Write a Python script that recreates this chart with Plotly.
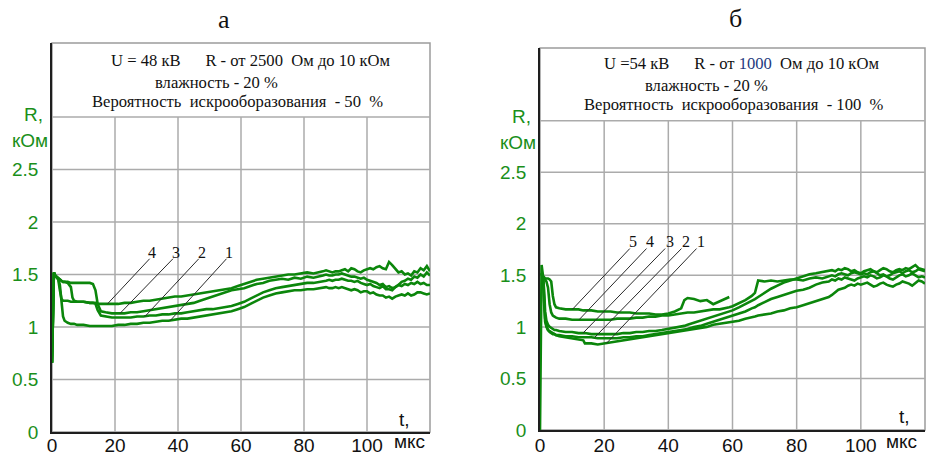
import plotly.graph_objects as go

# ---------------- data ----------------
# panel "а": time, мкс
T_A = [0, 0.3, 0.6, 1, 2, 2.5, 3, 3.5, 4, 5,
       6, 6.5, 7, 8, 10, 12, 13, 13.8, 14.5, 15.5,
       17, 19, 21, 23, 25, 27, 29, 31, 33, 35,
       37, 39, 41, 43, 45, 47, 49, 51, 53, 55,
       57, 59, 61, 63, 65, 67, 69, 71, 73, 75,
       77, 79, 81, 83, 85, 86, 87, 88, 89, 90,
       91, 92, 93, 94, 95, 96, 97, 98, 99, 100,
       101, 102, 103, 104, 105, 106, 107, 108, 109, 110,
       111, 112, 113, 114, 115, 116, 117, 118, 119, 120]

# R, кОм  curves 1..4 of panel "а"
A1 = [0.66, 1.25, 1.52, 1.49, 1.46, 1.40, 1.22, 1.10, 1.06, 1.04,
      1.03, 1.03, 1.03, 1.02, 1.02, 1.01, 1.01, 1.01, 1.01, 1.01,
      1.01, 1.01, 1.02, 1.02, 1.03, 1.03, 1.04, 1.04, 1.05, 1.06,
      1.06, 1.07, 1.08, 1.08, 1.09, 1.10, 1.11, 1.12, 1.13, 1.14,
      1.15, 1.17, 1.19, 1.22, 1.25, 1.28, 1.30, 1.32, 1.33, 1.34,
      1.35, 1.35, 1.36, 1.36, 1.37, 1.37, 1.38, 1.37, 1.37, 1.38,
      1.37, 1.38, 1.37, 1.36, 1.35, 1.36, 1.35, 1.33, 1.34, 1.34,
      1.32, 1.33, 1.31, 1.30, 1.30, 1.28, 1.29, 1.27, 1.29, 1.30,
      1.31, 1.30, 1.32, 1.30, 1.31, 1.33, 1.33, 1.32, 1.31, 1.32]
A2 = [0.66, 1.25, 1.52, 1.49, 1.46, 1.45, 1.44, 1.43, 1.43, 1.42,
      1.38, 1.28, 1.25, 1.24, 1.24, 1.23, 1.23, 1.22, 1.16, 1.11,
      1.10, 1.09, 1.09, 1.09, 1.09, 1.10, 1.10, 1.11, 1.11, 1.12,
      1.12, 1.13, 1.13, 1.14, 1.15, 1.16, 1.17, 1.17, 1.18, 1.19,
      1.20, 1.22, 1.24, 1.27, 1.30, 1.33, 1.35, 1.37, 1.38, 1.39,
      1.40, 1.41, 1.42, 1.42, 1.43, 1.43, 1.44, 1.45, 1.44, 1.45,
      1.45, 1.46, 1.45, 1.44, 1.44, 1.43, 1.44, 1.42, 1.41, 1.40,
      1.41, 1.39, 1.38, 1.37, 1.39, 1.36, 1.36, 1.35, 1.38, 1.40,
      1.39, 1.41, 1.40, 1.42, 1.41, 1.43, 1.41, 1.42, 1.40, 1.40]
A3 = [0.66, 1.25, 1.52, 1.49, 1.46, 1.45, 1.44, 1.43, 1.43, 1.43,
      1.42, 1.42, 1.42, 1.42, 1.42, 1.42, 1.41, 1.35, 1.22, 1.15,
      1.14, 1.13, 1.13, 1.13, 1.14, 1.14, 1.15, 1.16, 1.17, 1.18,
      1.19, 1.20, 1.21, 1.22, 1.23, 1.25, 1.27, 1.29, 1.31, 1.33,
      1.35, 1.36, 1.37, 1.39, 1.41, 1.42, 1.44, 1.45, 1.46, 1.45,
      1.47, 1.46, 1.48, 1.47, 1.48, 1.49, 1.50, 1.49, 1.49, 1.50,
      1.50, 1.51, 1.50, 1.49, 1.48, 1.48, 1.47, 1.46, 1.47, 1.45,
      1.44, 1.43, 1.42, 1.40, 1.41, 1.38, 1.39, 1.37, 1.38, 1.40,
      1.43, 1.44, 1.46, 1.45, 1.48, 1.47, 1.50, 1.48, 1.52, 1.49]
A4 = [0.66, 1.25, 1.52, 1.49, 1.45, 1.35, 1.27, 1.25, 1.25, 1.25,
      1.24, 1.24, 1.24, 1.24, 1.24, 1.23, 1.23, 1.23, 1.22, 1.22,
      1.22, 1.22, 1.22, 1.23, 1.23, 1.24, 1.25, 1.25, 1.26, 1.27,
      1.28, 1.29, 1.29, 1.30, 1.31, 1.32, 1.33, 1.34, 1.35, 1.36,
      1.37, 1.39, 1.41, 1.43, 1.45, 1.46, 1.47, 1.48, 1.49, 1.50,
      1.50, 1.51, 1.52, 1.51, 1.52, 1.53, 1.54, 1.53, 1.52, 1.53,
      1.53, 1.54, 1.55, 1.53, 1.56, 1.55, 1.53, 1.52, 1.54, 1.55,
      1.56, 1.55, 1.57, 1.58, 1.56, 1.55, 1.62, 1.59, 1.56, 1.52,
      1.53, 1.50, 1.51, 1.49, 1.53, 1.52, 1.56, 1.54, 1.58, 1.53]

# panel "б": time, мкс
T_B = [0, 0.3, 0.5, 1, 1.3, 1.6, 2, 2.5, 3, 3.5,
       4, 4.5, 5, 6, 8, 10, 12, 13.5, 14, 16,
       18, 20, 22, 24, 26, 28, 30, 32, 34, 36,
       38, 40, 42, 44, 45, 46, 48, 50, 52, 54,
       56, 58, 59, 60, 62, 64, 66, 67, 68, 70,
       72, 74, 76, 78, 80, 82, 84, 86, 88, 90,
       91, 92, 93, 94, 95, 96, 97, 98, 99, 100,
       101, 102, 103, 104, 105, 106, 107, 108, 109, 110,
       111, 112, 113, 114, 115, 116, 117, 118, 119, 120]

# R, кОм  curves 1..5 of panel "б"
B1 = [None, None, 1.52, 1.44, 1.22, 1.05, 1.00, 0.97, 0.96, 0.95,
      0.94, 0.93, 0.92, 0.91, 0.90, 0.89, 0.88, 0.87, 0.84, 0.84,
      0.83, 0.84, 0.85, 0.86, 0.87, 0.88, 0.89, 0.90, 0.91, 0.92,
      0.93, 0.94, 0.95, 0.96, 0.97, 0.97, 0.98, 0.99, 1.00, 1.02,
      1.03, 1.04, 1.05, 1.05, 1.06, 1.08, 1.09, 1.10, 1.11, 1.12,
      1.13, 1.15, 1.16, 1.18, 1.19, 1.21, 1.23, 1.25, 1.27, 1.29,
      1.31, 1.34, 1.36, 1.37, 1.38, 1.40, 1.41, 1.40, 1.42, 1.41,
      1.42, 1.43, 1.41, 1.39, 1.40, 1.42, 1.43, 1.41, 1.40, 1.39,
      1.41, 1.42, 1.44, 1.43, 1.42, 1.40, 1.43, 1.45, 1.44, 1.42]
B2 = [None, None, 1.52, 1.45, 1.25, 1.08, 1.01, 0.97, 0.95, 0.94,
      0.93, 0.93, 0.92, 0.92, 0.91, 0.91, 0.90, 0.90, 0.90, 0.90,
      0.89, 0.89, 0.89, 0.89, 0.90, 0.90, 0.91, 0.91, 0.92, 0.93,
      0.94, 0.95, 0.96, 0.97, 0.98, 0.98, 1.00, 1.01, 1.03, 1.05,
      1.07, 1.09, 1.10, 1.11, 1.13, 1.15, 1.18, 1.19, 1.21, 1.24,
      1.27, 1.29, 1.31, 1.33, 1.35, 1.36, 1.38, 1.41, 1.43, 1.44,
      1.46, 1.45, 1.47, 1.46, 1.48, 1.47, 1.46, 1.45, 1.47, 1.48,
      1.49, 1.48, 1.50, 1.49, 1.47, 1.48, 1.50, 1.49, 1.47, 1.46,
      1.48, 1.50, 1.51, 1.49, 1.50, 1.52, 1.50, 1.48, 1.49, 1.48]
B3 = [None, None, 1.52, 1.47, 1.35, 1.15, 1.06, 1.02, 1.00, 0.99,
      0.98, 0.97, 0.97, 0.96, 0.95, 0.95, 0.94, 0.94, 0.94, 0.93,
      0.93, 0.93, 0.93, 0.93, 0.94, 0.94, 0.95, 0.95, 0.96, 0.96,
      0.97, 0.98, 0.99, 1.00, 1.01, 1.02, 1.04, 1.06, 1.08, 1.10,
      1.12, 1.14, 1.15, 1.16, 1.19, 1.22, 1.25, 1.27, 1.29, 1.33,
      1.37, 1.40, 1.43, 1.45, 1.47, 1.49, 1.51, 1.52, 1.53, 1.54,
      1.55, 1.54, 1.56, 1.55, 1.57, 1.56, 1.54, 1.55, 1.53, 1.52,
      1.54, 1.55, 1.56, 1.54, 1.53, 1.55, 1.57, 1.56, 1.54, 1.53,
      1.55, 1.56, 1.55, 1.57, 1.56, 1.58, 1.60, 1.57, 1.56, 1.55]
B4 = [None, None, 1.52, 1.48, 1.47, 1.46, 1.44, 1.38, 1.22, 1.14,
      1.11, 1.10, 1.09, 1.08, 1.08, 1.07, 1.07, 1.07, 1.07, 1.07,
      1.07, 1.07, 1.07, 1.08, 1.08, 1.08, 1.09, 1.09, 1.10, 1.10,
      1.11, 1.11, 1.12, 1.13, 1.13, 1.14, 1.14, 1.15, 1.16, 1.17,
      1.17, 1.18, 1.19, 1.20, 1.23, 1.26, 1.30, 1.33, 1.45, 1.44,
      1.45, 1.44, 1.45, 1.46, 1.46, 1.45, 1.47, 1.48, 1.47, 1.49,
      1.50, 1.49, 1.51, 1.52, 1.51, 1.50, 1.52, 1.53, 1.52, 1.51,
      1.52, 1.51, 1.53, 1.54, 1.52, 1.50, 1.51, 1.49, 1.50, 1.52,
      1.53, 1.54, 1.52, 1.54, 1.55, 1.53, 1.54, 1.56, 1.55, 1.54]
B5 = [0.0, 0.85, 1.60, 1.48, 1.48, 1.47, 1.47, 1.47, 1.46, 1.44,
      1.30, 1.22, 1.19, 1.18, 1.17, 1.17, 1.17, 1.16, 1.16, 1.16,
      1.15, 1.15, 1.15, 1.14, 1.14, 1.14, 1.13, 1.13, 1.13, 1.12,
      1.12, 1.13, 1.15, 1.18, 1.26, 1.28, 1.27, 1.25, 1.26, 1.22,
      1.25, 1.28, 1.29, None, None, None, None, None, None, None,
      None, None, None, None, None, None, None, None, None, None,
      None, None, None, None, None, None, None, None, None, None,
      None, None, None, None, None, None, None, None, None, None,
      None, None, None, None, None, None, None, None, None, None]

X_TICKS = [0, 20, 40, 60, 80, 100]
Y_TICKS = [0, 0.5, 1, 1.5, 2, 2.5]
Y_TICK_TEXT = ["0", "0.5", "1", "1.5", "2", "2.5"]
X_GRID = [20, 40, 60, 80, 100]
Y_GRID = [0.5, 1, 1.5, 2, 2.5, 3]

CURVE_LABELS_A = ["4", "3", "2", "1"]
CURVE_LABELS_B = ["5", "4", "3", "2", "1"]

INFO_A = ["U = 48 кВ      R - от 2500  Ом до 10 кОм",
          "влажность - 20 %",
          "Вероятность  искрооборазования  - 50  %"]
INFO_B = ["U =54 кВ      R - от 1000  Ом до 10 кОм",
          "влажность - 20 %",
          "Вероятность  искрооборазования  - 100  %"]

# ---------------- styling / layout ----------------
W, H = 926, 455
GREEN = "#0b860b"
TICK_GREEN = "#1a8f1a"
GRID = "#ababab"
SANS = "Liberation Sans, Arial, sans-serif"
SERIF = "Liberation Serif, Times New Roman, serif"


def nb(s):
    return s.replace(" ", "\u00a0")


fig = go.Figure()
for ys in (A1, A2, A3, A4):
    fig.add_trace(go.Scatter(x=T_A, y=ys, mode="lines", xaxis="x", yaxis="y",
                             line=dict(color=GREEN, width=2.6), showlegend=False,
                             hoverinfo="skip", connectgaps=False))
for ys in (B1, B2, B3, B4, B5):
    fig.add_trace(go.Scatter(x=T_B, y=ys, mode="lines", xaxis="x2", yaxis="y2",
                             line=dict(color=GREEN, width=2.6), showlegend=False,
                             hoverinfo="skip", connectgaps=False))

# pixel frames of the two panels
PA = dict(l=52, r=430, t=43, b=432)
PB = dict(l=540, r=925, t=48, b=430)
YMAX = 3.705


def xdom(p):
    return [p["l"] / W, p["r"] / W]


def ydom(p):
    return [(H - p["b"]) / H, (H - p["t"]) / H]


xax = dict(range=[0, 120], tickvals=X_TICKS, ticktext=[str(v) for v in X_TICKS],
           showgrid=False, zeroline=False, showline=True, linecolor="#1e1e1e",
           linewidth=1.5, ticks="", automargin=False,
           tickfont=dict(family=SANS, size=19, color="#111111"), fixedrange=True)
yax = dict(range=[0, YMAX], tickvals=Y_TICKS, ticktext=Y_TICK_TEXT,
           showgrid=False, zeroline=False, showline=True, linecolor="#1e1e1e",
           linewidth=1.5, ticks="", ticklabelstandoff=8, automargin=False,
           tickfont=dict(family=SANS, size=19, color=TICK_GREEN), fixedrange=True)

fig.update_layout(
    width=W, height=H, margin=dict(l=0, r=0, t=0, b=0, pad=0),
    paper_bgcolor="white", plot_bgcolor="white",
    xaxis=dict(xax, domain=xdom(PA), anchor="y", ticklabelstandoff=-5),
    yaxis=dict(yax, domain=ydom(PA), anchor="x"),
    xaxis2=dict(xax, domain=xdom(PB), anchor="y2", ticklabelstandoff=-3),
    yaxis2=dict(yax, domain=ydom(PB), anchor="x2"),
)

shapes = []
annotations = []
for xr, yr in (("x", "y"), ("x2", "y2")):
    for v in Y_GRID:
        shapes.append(dict(type="line", xref=xr, yref=yr, x0=0, x1=120, y0=v, y1=v,
                           line=dict(color=GRID, width=1.5), layer="below"))
    for v in X_GRID:
        shapes.append(dict(type="line", xref=xr, yref=yr, x0=v, x1=v, y0=0, y1=3,
                           line=dict(color=GRID, width=1.5), layer="below"))
    shapes.append(dict(type="rect", xref=xr + " domain", yref=yr + " domain",
                       x0=0, x1=1, y0=0, y1=1, line=dict(color="#9c9c9c", width=1.5),
                       layer="below"))

# leader lines: (label, label_x, label_y, top_x, top_y, end_x, end_y)
LEAD_A = [(CURVE_LABELS_A[0], 31.8, 1.71, 31.0, 1.65, 17.6, 1.22),
          (CURVE_LABELS_A[1], 39.4, 1.71, 38.4, 1.65, 21.6, 1.13),
          (CURVE_LABELS_A[2], 47.6, 1.71, 46.6, 1.65, 29.5, 1.10),
          (CURVE_LABELS_A[3], 56.2, 1.71, 55.4, 1.65, 37.5, 1.06)]
LEAD_B = [(CURVE_LABELS_B[0], 29.1, 1.83, 28.0, 1.76, 10.1, 1.17),
          (CURVE_LABELS_B[1], 34.4, 1.83, 33.2, 1.76, 12.2, 1.07),
          (CURVE_LABELS_B[2], 40.6, 1.83, 39.0, 1.76, 13.4, 0.94),
          (CURVE_LABELS_B[3], 45.6, 1.83, 44.1, 1.76, 17.1, 0.90),
          (CURVE_LABELS_B[4], 50.3, 1.83, 48.8, 1.76, 20.7, 0.84)]
for (xr, yr, leads) in (("x", "y", LEAD_A), ("x2", "y2", LEAD_B)):
    for lab, lx, ly, tx, ty, ex, ey in leads:
        shapes.append(dict(type="line", xref=xr, yref=yr, x0=tx, y0=ty, x1=ex, y1=ey,
                           line=dict(color="#2a2a2a", width=1)))
        annotations.append(dict(xref=xr, yref=yr, x=lx, y=ly, text=lab, showarrow=False,
                                xanchor="center", yanchor="middle",
                                font=dict(family=SERIF, size=16, color="#111111")))

# info text boxes
INFO_POS_A = [(63.2, 3.54), (52.1, 3.33), (59.0, 3.15)]
INFO_POS_B = [(62.8, 3.55), (51.9, 3.34), (60.6, 3.16)]
for (xr, yr, lines, pos) in (("x", "y", INFO_A, INFO_POS_A), ("x2", "y2", INFO_B, INFO_POS_B)):
    for txt, (px, py) in zip(lines, pos):
        t = nb(txt).replace("1000", "<span style='color:#1f3a80'>1000</span>")
        annotations.append(dict(xref=xr, yref=yr, x=px, y=py, text=t, showarrow=False,
                                xanchor="center", yanchor="middle",
                                font=dict(family=SERIF, size=16.6, color="#111111")))

# axis captions
for (xr, yr, px_t, py_t, x_mks, mks_shift) in (("x", "y", 112.0, 0.12, 113.4, 3),
                                               ("x2", "y2", 113.7, 0.13, 112.8, 1)):
    annotations.append(dict(xref=xr, yref=yr, x=px_t, y=py_t, text="t,", showarrow=False,
                            xanchor="center", yanchor="middle",
                            font=dict(family=SANS, size=19, color="#111111")))
    annotations.append(dict(xref=xr, yref=yr, x=x_mks, y=0, xanchor="center",
                            yanchor="top", yshift=mks_shift, text="мкс", showarrow=False,
                            font=dict(family=SANS, size=19, color="#111111")))

for (xr_px, yR_px, xK_px, yK_px) in ((45, 114, 50, 140), (533, 117, 538, 142)):
    annotations.append(dict(xref="paper", yref="paper", x=xr_px / W, y=(H - yR_px) / H,
                            xanchor="right", yanchor="middle", text="R,", showarrow=False,
                            font=dict(family=SANS, size=19, color=TICK_GREEN)))
    annotations.append(dict(xref="paper", yref="paper", x=xK_px / W, y=(H - yK_px) / H,
                            xanchor="right", yanchor="middle", text="кОм", showarrow=False,
                            font=dict(family=SANS, size=19, color=TICK_GREEN)))

# panel titles
for (tx, ty, lab) in ((224, 20, "а"), (735, 19, "б")):
    annotations.append(dict(xref="paper", yref="paper", x=tx / W, y=(H - ty) / H,
                            xanchor="center", yanchor="middle",
                            text=lab, showarrow=False,
                            font=dict(family=SERIF, size=26, color="#111111")))

fig.update_layout(shapes=shapes, annotations=annotations)
fig.write_html("out.html", config={"displayModeBar": False},
               post_script="document.body.style.margin='0';document.body.style.overflow='hidden';")
